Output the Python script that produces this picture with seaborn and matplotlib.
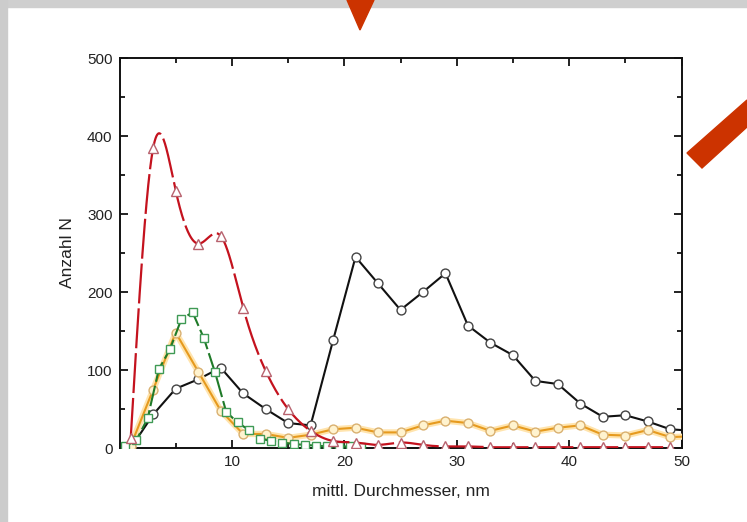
import numpy as np
import pandas as pd
import matplotlib
matplotlib.use("Agg")
import matplotlib.pyplot as plt
import seaborn as sns
from matplotlib.patches import Polygon, Rectangle
from matplotlib.ticker import MultipleLocator

# ---------------- data ----------------
black_x = [1, 3, 5, 7, 9, 11, 13, 15, 17, 19, 21, 23, 25, 27, 29, 31, 33, 35,
           37, 39, 41, 43, 45, 47, 49, 51]
black_y = [0, 43, 76, 88, 103, 70, 50, 32, 29, 138, 245, 211, 177, 200, 224,
           157, 135, 119, 86, 82, 57, 40, 42, 34, 24, 22]

orange_x = [1, 3, 5, 7, 9, 11, 13, 15, 17, 19, 21, 23, 25, 27, 29, 31, 33, 35,
            37, 39, 41, 43, 45, 47, 49, 51]
orange_y = [3, 75, 148, 98, 48, 18, 18, 13, 17, 24, 26, 20, 20, 29, 35, 32,
            22, 29, 21, 26, 29, 17, 16, 23, 14, 15]

green_x = [0.5, 1.5, 2.5, 3.5, 4.5, 5.5, 6.5, 7.5, 8.5, 9.5, 10.5, 11.5, 12.5,
           13.5, 14.5, 15.5, 16.5, 17.5, 18.5, 19.5, 20.5, 21.5]
green_y = [2, 10, 38, 101, 127, 165, 174, 141, 97, 46, 33, 23, 12, 9, 7, 5, 4,
           3, 2, 2, 2, 1]

red_x = [1, 3, 5, 7, 9, 11, 13, 15, 17, 19, 21, 23, 25, 27, 29, 31, 33, 35, 37,
         39, 41, 43, 45, 47, 49]
red_y = [13, 385, 330, 262, 272, 180, 99, 50, 22, 9, 7, 4, 7, 4, 2, 2, 1, 1, 1,
         1, 1, 1, 1, 1, 1]

x_ticks = [10, 20, 30, 40, 50]
y_ticks = [0, 100, 200, 300, 400, 500]


def natural_spline(x, y, xs):
    x = np.asarray(x, float)
    y = np.asarray(y, float)
    n = len(x)
    h = np.diff(x)
    A = np.zeros((n, n))
    b = np.zeros(n)
    A[0, 0] = 1.0
    A[-1, -1] = 1.0
    for i in range(1, n - 1):
        A[i, i - 1] = h[i - 1]
        A[i, i] = 2 * (h[i - 1] + h[i])
        A[i, i + 1] = h[i]
        b[i] = 3 * ((y[i + 1] - y[i]) / h[i] - (y[i] - y[i - 1]) / h[i - 1])
    c = np.linalg.solve(A, b)
    bc = (y[1:] - y[:-1]) / h - h * (2 * c[:-1] + c[1:]) / 3
    d = (c[1:] - c[:-1]) / (3 * h)
    idx = np.clip(np.searchsorted(x, xs) - 1, 0, n - 2)
    dx = xs - x[idx]
    return y[idx] + bc[idx] * dx + c[idx] * dx ** 2 + d[idx] * dx ** 3


black = pd.DataFrame({"x": black_x, "y": black_y})
orange = pd.DataFrame({"x": orange_x, "y": orange_y})
green = pd.DataFrame({"x": green_x, "y": green_y})
red = pd.DataFrame({"x": red_x, "y": red_y})
xs = np.linspace(min(red_x), max(red_x), 1200)
red_curve = pd.DataFrame({"x": xs, "y": natural_spline(red_x, red_y, xs)})

# ---------------- style ----------------
sns.set_style("ticks")
plt.rcParams["font.family"] = ["Liberation Sans", "DejaVu Sans"]

fig = plt.figure(figsize=(7.47, 5.22), dpi=100)
fig.patch.set_facecolor("white")
ax = fig.add_axes([119.5 / 747, 1 - 448 / 522, (681.5 - 119.5) / 747, (448 - 58) / 522])

# black series
sns.lineplot(data=black, x="x", y="y", ax=ax, color="#111111", lw=1.5,
             marker="o", markersize=6.4, markerfacecolor="white",
             markeredgecolor="#444444", markeredgewidth=1.0, zorder=3)

# orange series with glow
sns.lineplot(data=orange, x="x", y="y", ax=ax, color="#ffe4ad", lw=4.5,
             zorder=3.5)
sns.lineplot(data=orange, x="x", y="y", ax=ax, color="#e69a1e", lw=1.5,
             marker="o", markersize=6.4, markerfacecolor="#fff3cf",
             markeredgecolor="#d9b070", markeredgewidth=1.0, zorder=4)

# green series
sns.lineplot(data=green, x="x", y="y", ax=ax, color="#1f7a28", lw=1.5,
             zorder=4.5).lines[-1].set_dashes((10, 2))
sns.lineplot(data=green, x="x", y="y", ax=ax, color="none", lw=0,
             marker="s", markersize=5.2, markerfacecolor="white",
             markeredgecolor="#3f9a55", markeredgewidth=1.0, zorder=4.6)

# red series: dashed spline line + triangles
sns.lineplot(data=red_curve, x="x", y="y", ax=ax, color="#c4121e", lw=1.6,
             zorder=5).lines[-1].set_dashes((18, 2.2))
sns.lineplot(data=red, x="x", y="y", ax=ax, color="none", lw=0,
             marker="^", markersize=7.5, markerfacecolor="white",
             markeredgecolor="#b8626e", markeredgewidth=1.0, zorder=5.5)

# ---------------- axes ----------------
ax.set_xlim(0, 50)
ax.set_ylim(0, 500)
ax.xaxis.set_major_locator(MultipleLocator(10))
ax.xaxis.set_minor_locator(MultipleLocator(5))
ax.yaxis.set_major_locator(MultipleLocator(100))
ax.yaxis.set_minor_locator(MultipleLocator(50))
ax.set_xticks(x_ticks)
ax.set_yticks(y_ticks)
ax.set_xticklabels([str(v) for v in x_ticks])
ax.set_yticklabels([str(v) for v in y_ticks])
ax.tick_params(which="both", direction="in", top=True, right=True,
               colors="#111111", width=1.3)
ax.tick_params(which="major", length=6, labelsize=11, pad=5,
               labelcolor="#222222")
ax.tick_params(which="minor", length=3.5)
for s in ax.spines.values():
    s.set_visible(True)
    s.set_linewidth(1.4)
    s.set_color("#111111")
ax.set_xlabel("mittl. Durchmesser, nm", fontsize=12.5, labelpad=11,
              color="#222222")
ax.set_ylabel("Anzahl N", fontsize=12.5, labelpad=9, color="#222222")
ax.set_facecolor("white")

# ---------------- decorations (frame and arrows of the slide) ----------------
W, H = 747.0, 522.0
fig.patches.append(Rectangle((0, 1 - 7 / H), 1, 7 / H, transform=fig.transFigure,
                             color="#cfcfcf", zorder=0))
fig.patches.append(Rectangle((0, 0), 7 / W, 1, transform=fig.transFigure,
                             color="#cccccc", zorder=0))
tri = [(347, 0), (374, 0), (360, 30)]
fig.patches.append(Polygon([(px / W, 1 - py / H) for px, py in tri], closed=True,
                           transform=fig.transFigure, color="#cc3300", zorder=10))
bar = [(687, 153), (747, 100), (747, 127), (702, 168)]
fig.patches.append(Polygon([(px / W, 1 - py / H) for px, py in bar], closed=True,
                           transform=fig.transFigure, color="#cc3300", zorder=10))

fig.savefig("out.png", dpi=100, facecolor="white")
